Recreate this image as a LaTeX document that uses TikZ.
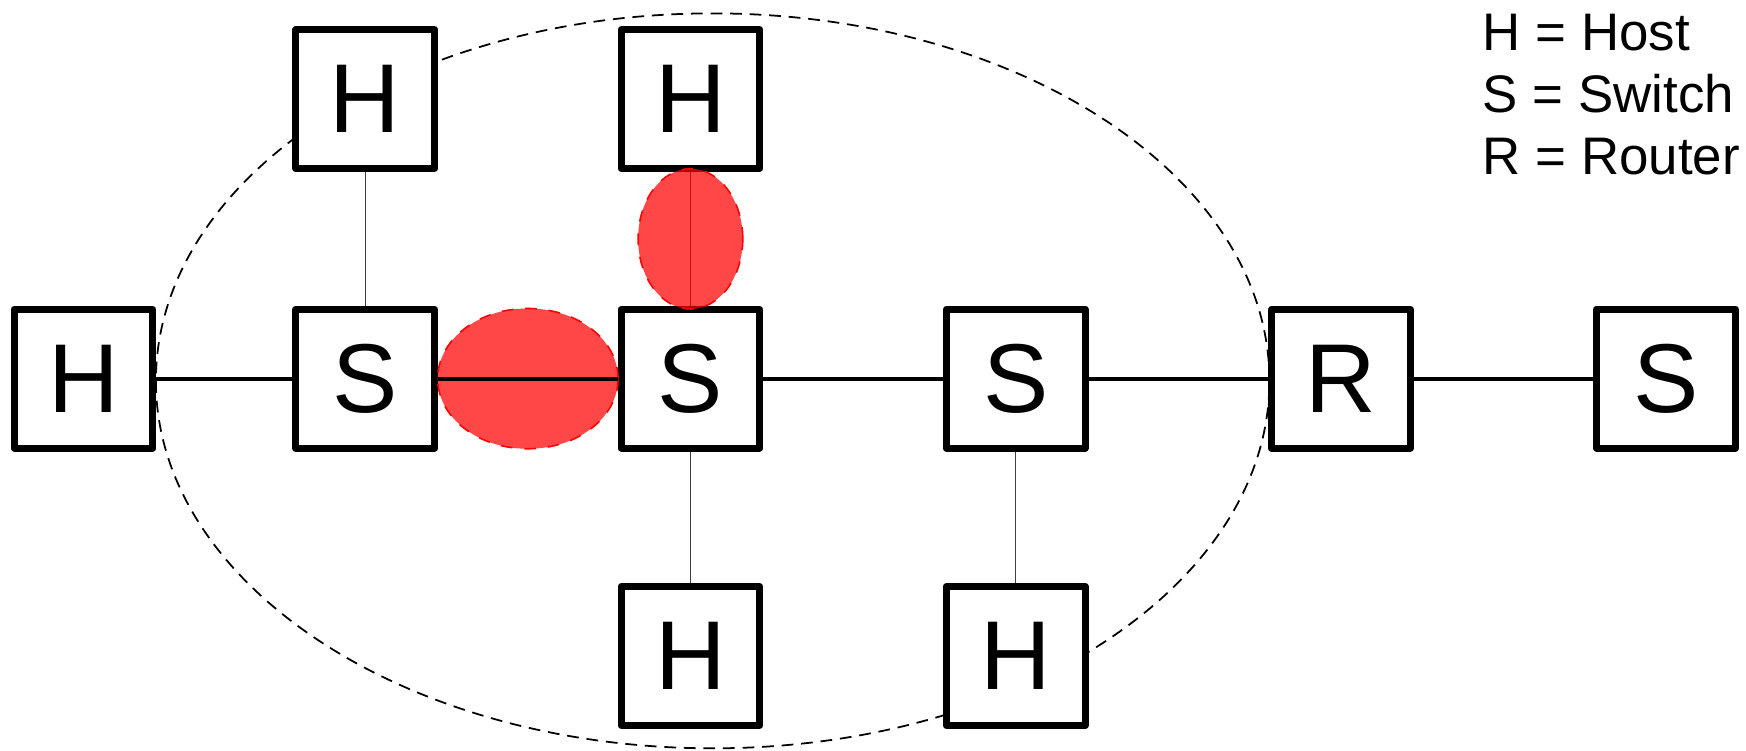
\documentclass[tikz,border=0pt]{standalone}
\usepackage{fontspec}
\setmainfont{Liberation Sans}
\usetikzlibrary{positioning, calc}
\tikzset{net-box/.style={draw, fill=white, line width=1.8pt, line join=round, minimum size=1.247cm, inner sep=0, font=\fontsize{25}{25}\selectfont}}
\tikzset{net-line/.style={line width=1pt}}
\tikzset{net-thin/.style={line width=0.35pt, black!75}}
\tikzset{net-region/.style={line width=0.45pt, dash pattern=on 3pt off 2pt}}
\tikzset{hot-link/.style={fill=red, fill opacity=0.72, draw=red, dashed, line width=0.4pt}}

\begin{document}
\begin{tikzpicture}
            \useasboundingbox (0,0) rectangle (15.68,-6.74);

            \draw[net-region] (6.40,-3.42) ellipse [x radius=5.00, y radius=3.30];

            \node[net-box] (host1) at (0.75,-3.40) {H};
            \node[net-box, right=1.22cm of host1] (switch1) {S};
            \node[net-box, right=1.61cm of switch1] (switch2) {S};
            \node[net-box, right=1.61cm of switch2] (switch3) {S};
            \node[net-box, right=1.61cm of switch3] (router1) {R};
            \node[net-box, right=1.61cm of router1] (switch4) {S};

            \node[net-box, above=1.20cm of switch1] (host2) {H};
            \node[net-box, above=1.20cm of switch2] (host3) {H};
            \node[net-box, below=1.18cm of switch2] (host4) {H};
            \node[net-box, below=1.18cm of switch3] (host5) {H};

            \node[anchor=north west, align=left, inner sep=0, font=\fontsize{13.5}{15.8}\selectfont] (legend) at (13.31,-0.12) {H = Host\\S = Switch\\R = Router};

            \draw[net-thin] (host2) -- (switch1);
            \draw[net-thin] (host3) -- (switch2);
            \draw[net-thin] (switch2) -- (host4);
            \draw[net-thin] (switch3) -- (host5);

            \path[hot-link] ($(switch1.east)!0.5!(switch2.west)$) ellipse [x radius=0.81, y radius=0.63];
            \path[hot-link] ($(host3.south)!0.5!(switch2.north)$) ellipse [x radius=0.47, y radius=0.63];

            \draw[net-line] (host1) -- (switch1);
            \draw[net-line] (switch1) -- (switch2);
            \draw[net-line] (switch2) -- (switch3);
            \draw[net-line] (switch3) -- (router1);
            \draw[net-line] (router1) -- (switch4);

        \end{tikzpicture}
\end{document}
